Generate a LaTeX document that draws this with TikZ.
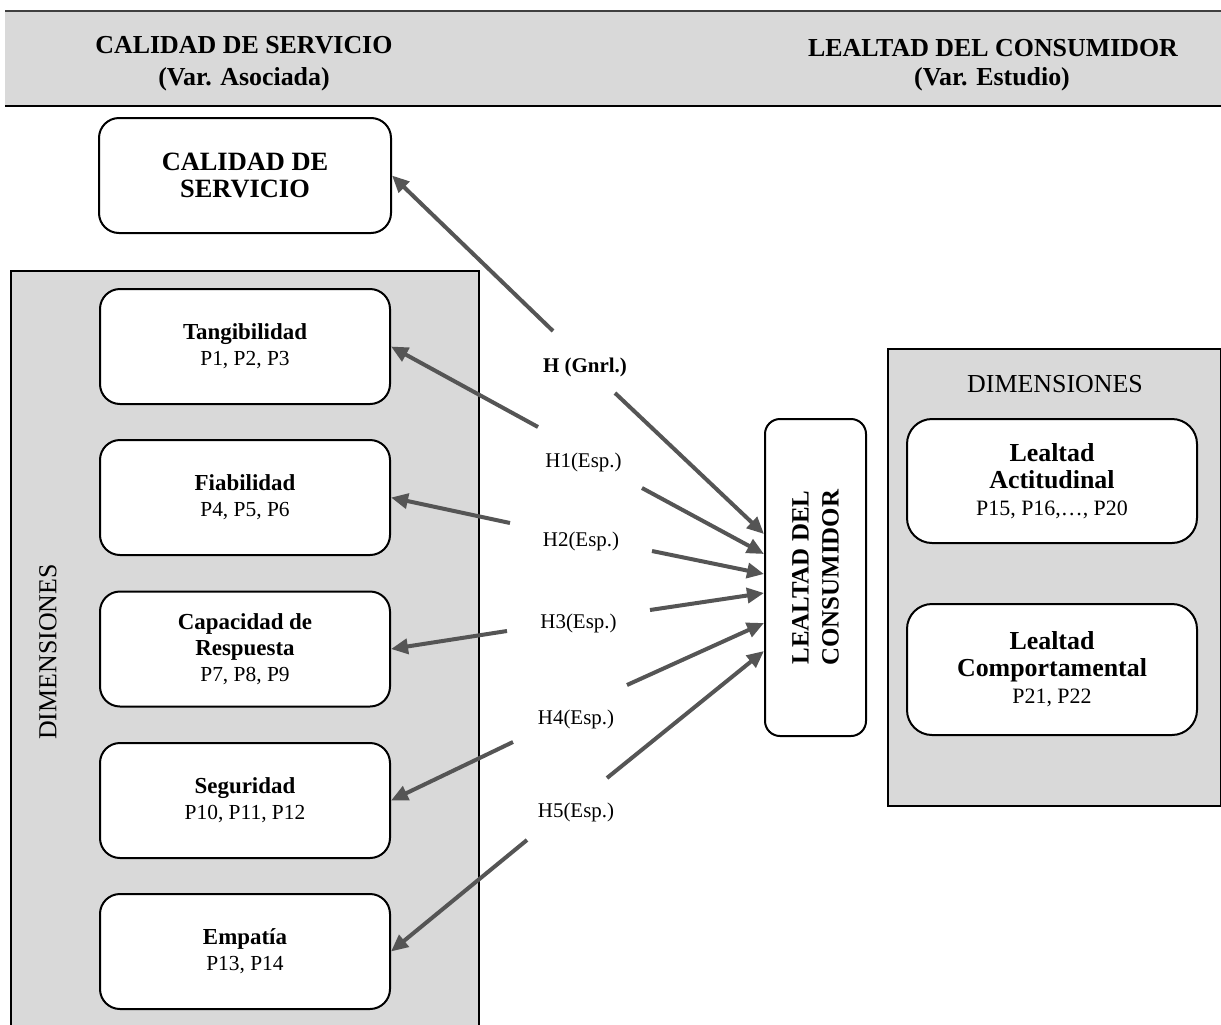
\documentclass[tikz,border=0pt]{standalone}
\usepackage{fontspec}
\setmainfont{Liberation Serif}
\usetikzlibrary{arrows.meta}

\definecolor{panelgray}{HTML}{D9D9D9}
\definecolor{arrowgray}{HTML}{555555}

% bold first lines inside the dimension boxes
\newcommand\dimtitle[1]{{\fontsize{23}{26}\selectfont\bfseries #1}}
\newcommand\loyaltitle[1]{{\fontsize{26}{27}\selectfont\bfseries #1}}

\begin{document}
\begin{tikzpicture}[x=1bp,y=-1bp,
  panel/.style={draw=black,line width=2bp,fill=panelgray,anchor=north west,inner sep=0pt},
  itembox/.style={draw=black,line width=2bp,fill=white,rounded corners=20bp,
    anchor=north west,inner sep=0pt,align=center,
    minimum width=290bp,minimum height=115bp,font=\fontsize{21.5}{26}\selectfont},
  loyalbox/.style={itembox,rounded corners=25bp,font=\fontsize{22}{27}\selectfont},
  hyp/.style={draw=arrowgray,line width=4bp,-{Triangle[length=17bp,width=15bp]}},
  hyplabel/.style={anchor=base,inner sep=0pt,font=\fontsize{21}{25}\selectfont},
  headtext/.style={anchor=base,inner sep=0pt,font=\fontsize{26}{30}\selectfont\bfseries},
  dimtext/.style={inner sep=0pt,font=\fontsize{26}{30}\selectfont},
]
\clip (0,0) rectangle (1221,1025);

% header band
\fill[panelgray] (5,11) rectangle (1221,106);
\draw[line width=2bp,draw=black!75] (5,11) -- (1221,11);
\draw[line width=2bp,draw=black] (5,106) -- (1221,106);
\node[headtext] (hl1) at (244,53) {CALIDAD DE SERVICIO};
\node[headtext] (hl2) at (244,85) {(Var. Asociada)};
\node[headtext] (hr1) at (993,56) {LEALTAD DEL CONSUMIDOR};
\node[headtext] (hr2) at (992,85) {(Var. Estudio)};

% associated variable
\node[itembox,minimum width=292bp,font=\fontsize{26.5}{28}\selectfont\bfseries]
  (cal) at (98,117) {CALIDAD DE\\SERVICIO};

% its dimensions
\node[panel,minimum width=468bp,minimum height=790bp] (dimL) at (10,270) {};
\node[dimtext,rotate=90] (dimLtxt) at (48,652) {DIMENSIONES};
\node[itembox] (tang) at (99,288)   {\dimtitle{Tangibilidad}\\P1, P2, P3};
\node[itembox] (fiab) at (99,439)   {\dimtitle{Fiabilidad}\\P4, P5, P6};
\node[itembox] (capr) at (99,590.5) {\dimtitle{Capacidad de}\\\dimtitle{Respuesta}\\P7, P8, P9};
\node[itembox] (segu) at (99,742)   {\dimtitle{Seguridad}\\P10, P11, P12};
\node[itembox] (empa) at (99,893)   {\dimtitle{Empatía}\\P13, P14};

% study variable
\node[draw=black,line width=2bp,fill=white,rounded corners=15bp,anchor=north west,
  inner sep=0pt,minimum width=101bp,minimum height=317bp] (lc) at (764,418) {};
\node[rotate=90,align=center,inner sep=0pt,font=\fontsize{25}{30}\selectfont\bfseries]
  (lctxt) at (lc.center) {LEALTAD DEL\\CONSUMIDOR};

% its dimensions
\node[panel,minimum width=333bp,minimum height=457bp] (dimR) at (887,348) {};
\node[dimtext,anchor=base] (dimRtxt) at (1055,392) {DIMENSIONES};
\node[loyalbox,minimum height=124bp] (acti) at (906,418)
  {\loyaltitle{Lealtad}\\\loyaltitle{Actitudinal}\\P15, P16,…, P20};
\node[loyalbox,minimum height=131bp] (comp) at (906,603)
  {\loyaltitle{Lealtad}\\\loyaltitle{Comportamental}\\P21, P22};

% hypothesis labels
\node[hyplabel,font=\fontsize{21}{25}\selectfont\bfseries] (hg) at (585,372) {H (Gnrl.)};
\node[hyplabel] (h1) at (583.5,467) {H1(Esp.)};
\node[hyplabel] (h2) at (581,546) {H2(Esp.)};
\node[hyplabel] (h3) at (578.5,628) {H3(Esp.)};
\node[hyplabel] (h4) at (576,724) {H4(Esp.)};
\node[hyplabel] (h5) at (576,817) {H5(Esp.)};

% free ends of the arrows, next to each label
\coordinate (tG1) at (553,331);
\coordinate (tG2) at (615,393);
\coordinate (tT)  at (538,427);
\coordinate (t1)  at (642,488);
\coordinate (tF)  at (510,523);
\coordinate (t2)  at (652,551);
\coordinate (t3)  at (650,610);
\coordinate (tC)  at (507,631);
\coordinate (t4)  at (627,685);
\coordinate (tS)  at (513,742);
\coordinate (t5)  at (607,778);
\coordinate (tE)  at (527,840);

% arrows towards the associated variable and its dimensions
\draw[hyp] (tG1) -- (cal.east);
\draw[hyp] (tT) -- (tang.east);
\draw[hyp] (tF) -- (fiab.east);
\draw[hyp] (tC) -- (capr.east);
\draw[hyp] (tS) -- (segu.east);
\draw[hyp] (tE) -- (empa.east);

% arrows towards the study variable
\draw[hyp] (tG2) -- ([yshift=43.5bp]lc.west);
\draw[hyp] (t1)  -- ([yshift=23.5bp]lc.west);
\draw[hyp] (t2)  -- ([yshift=3.5bp]lc.west);
\draw[hyp] (t3)  -- ([yshift=-15.5bp]lc.west);
\draw[hyp] (t4)  -- ([yshift=-45.5bp]lc.west);
\draw[hyp] (t5)  -- ([yshift=-73.5bp]lc.west);
\end{tikzpicture}
\end{document}
